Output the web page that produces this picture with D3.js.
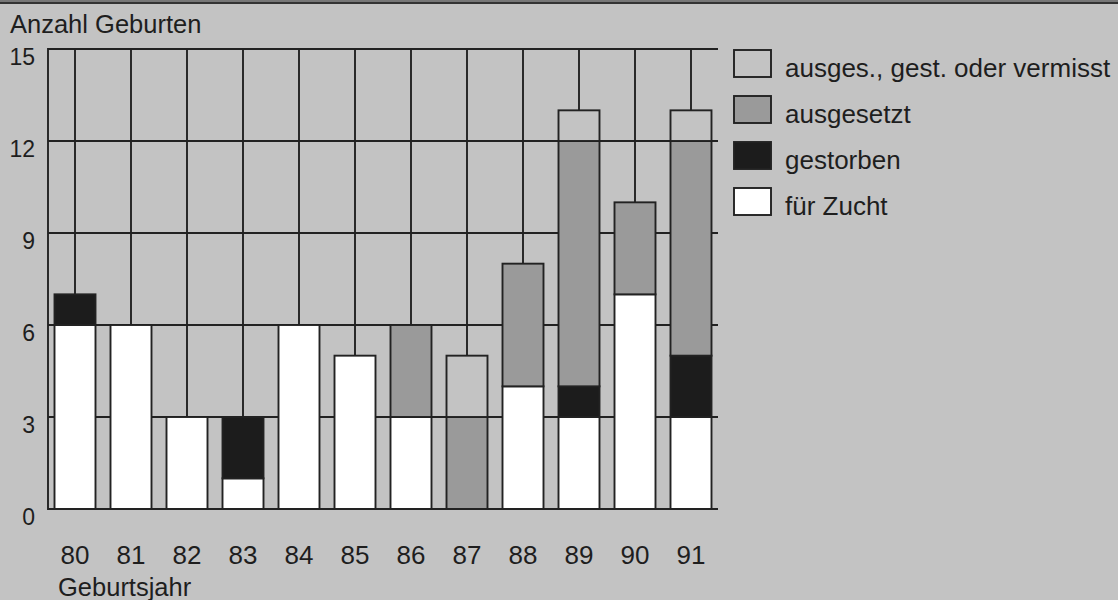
<!DOCTYPE html>
<html><head><meta charset="utf-8">
<script src="https://cdn.jsdelivr.net/npm/d3@7"></script>
<style>
html,body{margin:0;padding:0;background:#c3c3c3;}
svg{display:block;}
text{font-family:"Liberation Sans",Arial,sans-serif;fill:#1e1e1e;}
</style></head>
<body><svg id="c" width="1118" height="600"></svg>
<script>
const years = ["80","81","82","83","84","85","86","87","88","89","90","91"];
const zucht      = [6,6,3,1,6,5,3,0,4,3,7,3];
const gestorben  = [1,0,0,2,0,0,0,0,0,1,0,2];
const ausgesetzt = [0,0,0,0,0,0,3,3,4,8,3,7];
const vermisst   = [0,0,0,0,0,0,0,2,0,1,0,1];
const yTicks = [0,3,6,9,12,15];
const seriesKeys = ["zucht","gestorben","ausgesetzt","vermisst"];
const legendLabels = ["ausges., gest. oder vermisst","ausgesetzt","gestorben","für Zucht"];
const legendKeys = ["vermisst","ausgesetzt","gestorben","zucht"];

const colors = {zucht:"#ffffff", gestorben:"#1c1c1c", ausgesetzt:"#9a9a9a", vermisst:"#c3c3c3"};
const lineCol = "#222";
const sw = 1.9;

const svg = d3.select("#c");
const W = 1118, H = 600;
svg.append("rect").attr("width",W).attr("height",H).attr("fill","#c3c3c3");
svg.append("rect").attr("width",W).attr("height",2).attr("fill","#777");
svg.append("line").attr("x1",0).attr("x2",W).attr("y1",3).attr("y2",3).attr("stroke","#333").attr("stroke-width",2);

const x = d3.scaleBand().domain(years).range([47,719]).paddingInner(0.268).paddingOuter(0.134);
const y = d3.scaleLinear().domain([0,15]).range([509,49]);

// grid
const g = svg.append("g");
g.selectAll("line.h").data(yTicks).join("line")
  .attr("x1",48).attr("x2",718).attr("y1",d=>y(d)).attr("y2",d=>y(d))
  .attr("stroke",lineCol).attr("stroke-width",sw);
g.selectAll("line.v").data(years).join("line")
  .attr("x1",d=>x(d)+x.bandwidth()/2).attr("x2",d=>x(d)+x.bandwidth()/2)
  .attr("y1",y(15)).attr("y2",y(0)).attr("stroke",lineCol).attr("stroke-width",sw);
g.append("line").attr("x1",48).attr("x2",48).attr("y1",y(15)-1).attr("y2",y(0)+1).attr("stroke",lineCol).attr("stroke-width",sw);

// stacked bars
const table = years.map((yr,i)=>({year:yr, zucht:zucht[i], gestorben:gestorben[i], ausgesetzt:ausgesetzt[i], vermisst:vermisst[i]}));
const stack = d3.stack().keys(seriesKeys)(table);
const bars = svg.append("g");
stack.forEach(layer=>{
  bars.selectAll(null).data(layer.filter(d=>d[1]>d[0])).join("rect")
    .attr("x",d=>x(d.data.year)).attr("width",x.bandwidth())
    .attr("y",d=>y(d[1])).attr("height",d=>y(d[0])-y(d[1]))
    .attr("fill",colors[layer.key]).attr("stroke",lineCol).attr("stroke-width",sw);
});
svg.append("line").attr("x1",48).attr("x2",718).attr("y1",y(0)).attr("y2",y(0)).attr("stroke",lineCol).attr("stroke-width",2);

// y labels
svg.selectAll("text.yl").data(yTicks).join("text")
  .attr("x",35).attr("y",d=>y(d)+16).attr("text-anchor","end")
  .attr("font-size",23).text(d=>d);
// x labels
svg.selectAll("text.xl").data(years).join("text")
  .attr("x",d=>x(d)+x.bandwidth()/2).attr("y",564).attr("text-anchor","middle")
  .attr("font-size",26).text(d=>d);

svg.append("text").attr("x",10).attr("y",33).attr("font-size",25.5).text("Anzahl Geburten");
svg.append("text").attr("x",58).attr("y",596).attr("font-size",25.5).text("Geburtsjahr");

// legend
const lg = svg.append("g");
legendKeys.forEach((k,i)=>{
  const yy = 50 + i*46;
  lg.append("rect").attr("x",734).attr("y",yy).attr("width",37).attr("height",27)
    .attr("fill",colors[k]).attr("stroke",lineCol).attr("stroke-width",sw);
  lg.append("text").attr("x",785).attr("y",yy+27).attr("font-size",26).text(legendLabels[i]);
});
</script></body></html>
